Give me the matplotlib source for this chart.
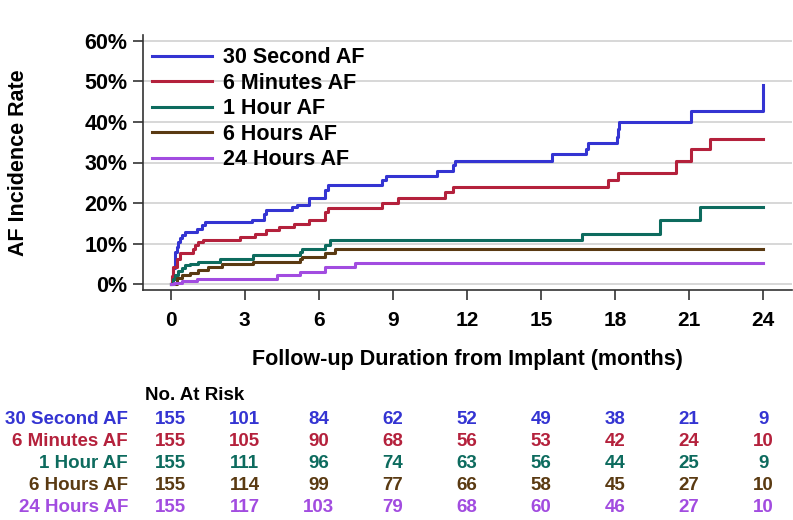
import matplotlib
matplotlib.use("Agg")
import matplotlib.pyplot as plt
from matplotlib.transforms import blended_transform_factory

plt.rcParams["font.family"] = ["Liberation Sans", "DejaVu Sans"]
plt.rcParams["font.weight"] = "bold"

# step curves: months since implant, cumulative AF %
t_30s = [0, 0.04, 0.1, 0.17, 0.24, 0.31, 0.38, 0.44, 0.58, 1.05, 1.25, 1.4,
         3.3, 3.8, 3.88, 4.9, 5.1, 5.6, 6.25, 6.38, 8.54, 8.74, 10.77, 11.45,
         11.52, 15.44, 16.81, 16.9, 18.06, 18.1, 18.15, 21.09, 24.0]
y_30s = [0, 1.5, 4.0, 8.0, 9.3, 10.4, 11.3, 12.2, 13.0, 13.7, 14.5, 15.3,
         15.9, 17.3, 18.2, 19.0, 19.6, 21.2, 23.3, 24.4, 25.6, 26.6, 27.9, 29.3,
         30.4, 32.0, 33.3, 34.9, 36.4, 38.2, 40.0, 42.8, 49.1]

t_6m = [0, 0.05, 0.11, 0.24, 0.38, 0.9, 1.0, 1.1, 1.3, 2.8, 3.4, 3.85, 4.4,
        5.0, 5.6, 6.25, 6.38, 8.54, 9.22, 11.1, 11.44, 17.72, 18.12, 20.48,
        21.09, 21.83, 24.0]
y_6m = [0, 2.0, 4.3, 6.3, 7.8, 8.8, 9.6, 10.3, 10.8, 11.7, 12.5, 13.3, 14.1,
        14.9, 15.8, 17.8, 18.9, 20.1, 21.3, 22.8, 24.0, 25.7, 27.3, 30.4,
        33.3, 35.9, 35.9]

t_1h = [0, 0.1, 0.17, 0.3, 0.45, 0.6, 0.8, 1.1, 2.0, 3.35, 5.23, 5.3, 6.25,
        6.45, 16.64, 19.81, 21.43, 24.0]
y_1h = [0, 1.2, 2.3, 3.2, 4.0, 4.7, 5.1, 5.5, 6.3, 7.1, 8.0, 8.7, 9.7,
        10.9, 12.5, 15.8, 19.1, 19.1]

t_6h = [0, 0.24, 0.44, 0.78, 1.12, 1.53, 2.06, 3.34, 5.23, 5.3, 6.25, 6.65,
        24.0]
y_6h = [0, 1.5, 2.3, 2.9, 3.5, 4.3, 4.9, 5.5, 6.3, 6.8, 7.8, 8.8, 8.8]

t_24h = [0, 0.15, 0.45, 1.05, 4.3, 5.25, 6.25, 7.45, 24.0]
y_24h = [0, 0.3, 0.7, 1.4, 2.2, 3.1, 4.2, 5.2, 5.2]

labels = ["30 Second AF", "6 Minutes AF", "1 Hour AF", "6 Hours AF",
          "24 Hours AF"]
colors = ["#3434d2", "#b4213c", "#0d6b5e", "#5a3a12", "#a24ce0"]

risk_months = [0, 3, 6, 9, 12, 15, 18, 21, 24]
risk_30s = [155, 101, 84, 62, 52, 49, 38, 21, 9]
risk_6m = [155, 105, 90, 68, 56, 53, 42, 24, 10]
risk_1h = [155, 111, 96, 74, 63, 56, 44, 25, 9]
risk_6h = [155, 114, 99, 77, 66, 58, 45, 27, 10]
risk_24h = [155, 117, 103, 79, 68, 60, 46, 27, 10]

curves = [(t_30s, y_30s), (t_6m, y_6m), (t_1h, y_1h), (t_6h, y_6h),
          (t_24h, y_24h)]
risks = [risk_30s, risk_6m, risk_1h, risk_6h, risk_24h]

fig = plt.figure(figsize=(7.93, 5.2), dpi=100)
ax = fig.add_axes([0.18, 0.4423, 0.8187, 0.4904])

for (t, y), lab, c in zip(curves, labels, colors):
    ax.step(t, y, where="post", color=c, lw=2.2, label=lab)

ax.set_xlim(-1.13, 25.16)
ax.set_ylim(-1.4, 61.4)
ax.set_xticks(risk_months)
ax.set_yticks(range(0, 61, 10))
ax.set_yticklabels([f"{v}%" for v in range(0, 61, 10)])
ax.yaxis.grid(True, color="#d4d4d4", lw=1.3)
ax.set_axisbelow(True)
for s in ["top", "right"]:
    ax.spines[s].set_visible(False)
for s in ["left", "bottom"]:
    ax.spines[s].set_color("#333333")
    ax.spines[s].set_linewidth(1.2)
ax.tick_params(axis="x", length=7, width=1.2, color="#333333", pad=8,
               labelsize=15)
ax.tick_params(axis="y", length=7, width=1.2, color="#333333", pad=4,
               labelsize=15.5)

ax.set_xlabel("Follow-up Duration from Implant (months)", fontsize=15.5,
              fontweight="bold", labelpad=14)
ax.set_ylabel("AF Incidence Rate", fontsize=15.5, fontweight="bold",
              labelpad=40)

ax.legend(loc="upper left", bbox_to_anchor=(0.014, 0.952), frameon=False,
          fontsize=15.5, handlelength=2.8, handletextpad=0.5, labelspacing=0.21,
          borderpad=0, borderaxespad=0)

# number-at-risk table under the axes
tr = blended_transform_factory(ax.transData, fig.transFigure)
fig.text(145 / 793, 1 - 396 / 520, "No. At Risk", fontsize=13.5,
         fontweight="bold", ha="left", va="center", color="black")
row_y = [419, 441, 464, 486, 508]
for lab, c, r, py in zip(labels, colors, risks, row_y):
    fy = 1 - py / 520
    fig.text(128 / 793, fy, lab, fontsize=13.5, fontweight="bold",
             ha="right", va="center", color=c)
    for m, n in zip(risk_months, r):
        ax.text(m, fy, str(n), transform=tr, fontsize=13.5,
                fontweight="bold", ha="center", va="center", color=c)

fig.savefig("out.png", dpi=100)
